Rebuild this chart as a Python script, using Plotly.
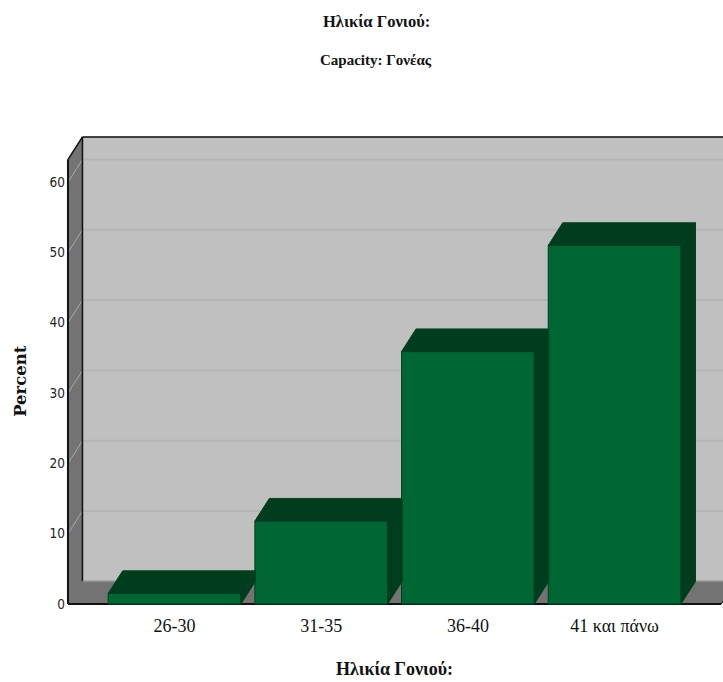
import plotly.graph_objects as go

categories = ["26-30", "31-35", "36-40", "41 και πάνω"]
percent = [1.5, 11.8, 35.9, 51.0]
y_ticks = [0, 10, 20, 30, 40, 50, 60]

# appearance of the pseudo-3D box, in axis units
depth_x = 0.0988
depth_y = 3.22
bar_width = 0.905
wall_top = 63.2
x_min, x_max = -0.74, 3.739
y_min, y_max = -0.28, 66.7
wall_left = -0.7265
wall_right = 3.727

C_FRONT = "#006633"
C_DARK = "#003d1f"
C_EDGE = "#00401f"
C_BACK = "#c0c0c0"
C_WALL = "#737373"
C_GRID_BACK = "#b5b5b5"
C_GRID_SIDE = "#a9a9a9"
SERIF = "Liberation Serif"
NARROW = "DejaVu Sans Condensed, DejaVu Sans"


def poly(points, fill, line=None, width=1):
    path = "M " + " L ".join(f"{x},{y}" for x, y in points) + " Z"
    return dict(type="path", path=path, xref="x", yref="y", layer="below",
                fillcolor=fill, line=dict(color=line or fill, width=width))


def seg(x0, y0, x1, y1, color, width):
    return dict(type="line", x0=x0, y0=y0, x1=x1, y1=y1, xref="x", yref="y",
                layer="below", line=dict(color=color, width=width))


bx = wall_left + depth_x
shapes = [
    poly([(bx, depth_y), (x_max + 1, depth_y), (x_max + 1, wall_top + depth_y), (bx, wall_top + depth_y)], C_BACK),
    poly([(wall_left, 0), (bx, depth_y), (bx, wall_top + depth_y), (wall_left, wall_top)], C_WALL),
    poly([(wall_left, 0), (wall_right, 0), (wall_right + depth_x, depth_y), (bx, depth_y)], C_WALL),
]
for t in y_ticks[1:]:
    shapes.append(seg(bx, t + depth_y, x_max + 1, t + depth_y, C_GRID_BACK, 2))
    shapes.append(seg(wall_left, t, bx, t + depth_y, C_GRID_SIDE, 1))
shapes += [
    seg(bx, wall_top + depth_y, x_max + 1, wall_top + depth_y, "#111111", 1.5),
    seg(bx, depth_y, bx, wall_top + depth_y, "#111111", 1.5),
    seg(wall_left, wall_top, bx, wall_top + depth_y, "#111111", 1.5),
    seg(wall_left, 0, wall_left, wall_top, "#111111", 2),
    seg(bx, depth_y, x_max + 1, depth_y, "#8c8c8c", 1.5),
    seg(wall_left, 0, wall_right, 0, "#111111", 2),
    seg(wall_right, 0, wall_right + depth_x, depth_y, "#111111", 1),
]

top_x, top_y, side_x, side_y = [], [], [], []
for i, v in enumerate(percent):
    l, r = i - bar_width / 2, i + bar_width / 2
    top_x += [l, r, r + depth_x, l + depth_x, l, None]
    top_y += [v, v, v + depth_y, v + depth_y, v, None]
    side_x += [r, r + depth_x, r + depth_x, r, r, None]
    side_y += [0, depth_y, v + depth_y, v, 0, None]

fig = go.Figure()
fig.add_trace(go.Bar(x=list(range(len(categories))), y=percent, width=bar_width,
                     marker=dict(color=C_FRONT, line=dict(color=C_EDGE, width=1)),
                     showlegend=False, hoverinfo="x+y"))
for xs, ys in ((top_x, top_y), (side_x, side_y)):
    fig.add_trace(go.Scatter(x=xs, y=ys, mode="lines", fill="toself", fillcolor=C_DARK,
                             line=dict(color=C_EDGE, width=1),
                             showlegend=False, hoverinfo="skip"))

fig.update_layout(
    width=723, height=682, autosize=False,
    margin=dict(l=66, r=0, t=135, b=76),
    paper_bgcolor="white", plot_bgcolor="white",
    shapes=shapes,
    xaxis=dict(range=[x_min, x_max], tickmode="array", tickvals=list(range(len(categories))),
               ticktext=categories, showgrid=False, zeroline=False, showline=False,
               ticks="outside", ticklen=3, tickcolor="rgba(0,0,0,0)",
               tickfont=dict(family=SERIF, size=18, color="#111111"),
               title=dict(text="<b>Ηλικία Γονιού:</b>", standoff=27,
                          font=dict(family=SERIF, size=18, color="#111111"))),
    yaxis=dict(range=[y_min, y_max], tickmode="array", tickvals=y_ticks,
               showgrid=False, zeroline=False, showline=False, ticks="",
               tickfont=dict(family=NARROW, size=13.5, color="#222222")),
    annotations=[
        dict(text="<b>Ηλικία Γονιού:</b>", xref="paper", yref="paper", x=0.472, y=1.24,
             yanchor="middle", showarrow=False, font=dict(family=SERIF, size=16.5, color="#111111")),
        dict(text="<b>Capacity: Γονέας</b>", xref="paper", yref="paper", x=0.472, y=1.159,
             yanchor="middle", showarrow=False, font=dict(family=SERIF, size=15, color="#111111")),
        dict(text="<b>Percent</b>", xref="paper", yref="paper", x=-0.0685, y=0.478,
             xanchor="center", yanchor="middle", textangle=-90, showarrow=False,
             font=dict(family="DejaVu Serif", size=16.5, color="#111111")),
    ],
)
fig.write_html("out.html", config={"displayModeBar": False},
               post_script="document.body.style.margin='0';")
